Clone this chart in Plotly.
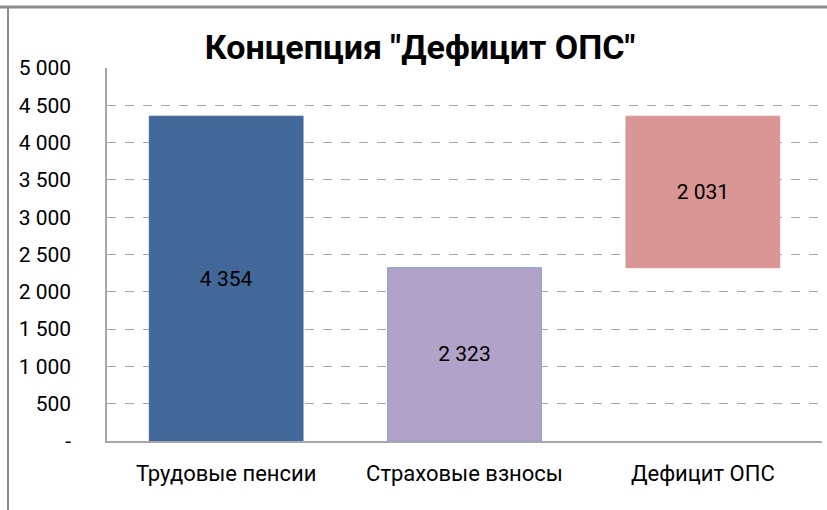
import plotly.graph_objects as go

# ---- data ----
categories = ["Трудовые пенсии", "Страховые взносы", "Дефицит ОПС"]
values = [4354, 2323, 2031]
label_texts = ["4 354", "2 323", "2 031"]
tick_values = [0, 500, 1000, 1500, 2000, 2500, 3000, 3500, 4000, 4500, 5000]
tick_labels = ["-", "500", "1 000", "1 500", "2 000", "2 500", "3 000", "3 500", "4 000", "4 500", "5 000"]
title_text = 'Концепция "Дефицит ОПС"'

# waterfall bases: deficit floats on top of contributions
bases = [0, 0, values[1]]

bar_colors = ["#416899", "#B1A2C7", "#D99694"]
line_colors = ["#416899", "#7F9FD3", "#D99694"]

FONT = "Roboto"

fig = go.Figure()
fig.add_trace(go.Bar(
    x=categories,
    y=values,
    base=bases,
    text=label_texts,
    textposition="inside",
    insidetextanchor="middle",
    textangle=0,
    textfont=dict(family=FONT, size=21, color="#000000"),
    marker=dict(color=bar_colors, line=dict(color=line_colors, width=1)),
    width=0.645,
    hoverinfo="skip",
))

W, H = 827, 510
ml, mr, mt, mb = 107, 5, 68, 69
pw, ph = W - ml - mr, H - mt - mb

def px_x(px):
    return (px - ml) / pw

def px_y(py):
    return (H - mb - py) / ph

fig.update_layout(
    width=W, height=H,
    margin=dict(l=ml, r=mr, t=mt, b=mb, autoexpand=False),
    paper_bgcolor="white",
    plot_bgcolor="white",
    showlegend=False,
    title=dict(
        text="<b>" + title_text + "</b>",
        x=(420) / W, xanchor="center",
        y=1 - 47 / H, yanchor="middle",
        font=dict(family=FONT, size=34, color="#000000"),
    ),
    font=dict(family=FONT, color="#000000"),
    bargap=0.355,
    shapes=[
        dict(type="line", xref="paper", yref="paper",
             x0=px_x(0), x1=px_x(W), y0=px_y(7), y1=px_y(7),
             line=dict(color="#8C8C8C", width=3), layer="above"),
        dict(type="line", xref="paper", yref="paper",
             x0=px_x(8), x1=px_x(8), y0=px_y(7), y1=px_y(H),
             line=dict(color="#8C8C8C", width=2), layer="above"),
    ],
)

fig.update_yaxes(
    range=[0, 5000],
    tickvals=tick_values,
    ticktext=tick_labels,
    tickfont=dict(family=FONT, size=21, color="#000000"),
    ticklabelstandoff=30,
    ticks="",
    showgrid=True,
    gridcolor="#A6A6A6",
    griddash="dash",
    gridwidth=1,
    showline=True,
    linecolor="#A6A6A6",
    linewidth=1.5,
    zeroline=False,
    fixedrange=True,
)
fig.update_xaxes(
    tickfont=dict(family=FONT, size=22, color="#000000"),
    ticks="",
    ticklabelstandoff=12,
    showline=True,
    linecolor="#A6A6A6",
    linewidth=1.5,
    showgrid=False,
    fixedrange=True,
)

fig.write_html(
    "out.html",
    config={"displayModeBar": False},
    post_script="document.body.style.margin='0';document.body.style.padding='0';",
)
